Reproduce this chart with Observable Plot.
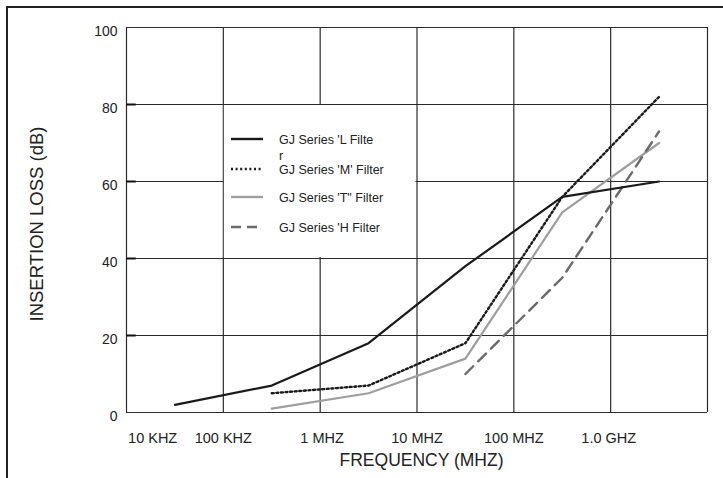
<!DOCTYPE html>
<html>
<head>
<meta charset="utf-8">
<script src="https://cdn.jsdelivr.net/npm/d3@7"></script>
<script src="https://cdn.jsdelivr.net/npm/@observablehq/plot@0.6"></script>
<style>
  html, body { margin: 0; padding: 0; background: #fff; }
  #wrap { position: relative; width: 723px; height: 478px; overflow: hidden; font-family: "Liberation Sans", Arial, sans-serif; }
  #border { position: absolute; left: 6px; top: 6px; width: 730px; height: 480px; border-top: 2px solid #222; border-left: 2px solid #222; box-sizing: border-box; }
  #chart { position: absolute; left: 0; top: 0; }
  #legend { position: absolute; left: 0; top: 0; }
</style>
</head>
<body>
<div id="wrap"><div id="border"></div><div id="chart"></div><div id="legend"></div></div>
<script>
// x positions are in "decades" from 10 kHz (gridline index)
const decades = [0.5, 1.5, 2.5, 3.5, 4.5, 5.5];
const seriesL = [2, 7, 18, 38, 56, 60];           // GJ Series 'L
const xM = [1.5, 2.5, 3.5, 4.5, 5.5];
const seriesM = [5, 7, 18, 56, 82];               // GJ Series 'M'
const xT = [1.5, 2.5, 3.5, 4.5, 5.5];
const seriesT = [1, 5, 14, 52, 70];               // GJ Series 'T"
const xH = [3.5, 4.5, 5.5];
const seriesH = [10, 35, 73];                     // GJ Series 'H
const yTicks = [0, 20, 40, 60, 80, 100];
const xGrid = [0, 1, 2, 3, 4, 5, 6];
const xTickLabels = ["10 KHZ", "100 KHZ", "1 MHZ", "10 MHZ", "100 MHZ", "1.0 GHZ"];
const xTickPos = [0.27, 1.0, 2.02, 3.0, 4.0, 4.98];
const legendLabels = [["GJ Series 'L Filte", "r"], ["GJ Series 'M' Filter"], ["GJ Series 'T\" Filter"], ["GJ Series 'H Filter"]];

const L = decades.map((x, i) => ({x, y: seriesL[i]}));
const M = xM.map((x, i) => ({x, y: seriesM[i]}));
const T = xT.map((x, i) => ({x, y: seriesT[i]}));
const H = xH.map((x, i) => ({x, y: seriesH[i]}));
const xt = xTickLabels.map((t, i) => ({t, x: xTickPos[i]}));

const font = "Liberation Sans, Arial, sans-serif";
const gridColor = "#2a2a2a";

const chart = Plot.plot({
  width: 723,
  height: 478,
  marginLeft: 126,
  marginRight: 16,
  marginTop: 27,
  marginBottom: 66,
  x: {domain: [0, 6], axis: null},
  y: {domain: [0, 100], axis: null},
  style: {background: "transparent", fontFamily: font},
  marks: [
    Plot.ruleX(xGrid, {stroke: gridColor, strokeWidth: 1.2, strokeOpacity: 1}),
    Plot.ruleY(yTicks, {stroke: gridColor, strokeWidth: 1.2, strokeOpacity: 1}),
    Plot.ruleY(yTicks.slice(1, 5), {x1: 0, x2: 0.1, stroke: "#111", strokeWidth: 2}),
    Plot.rect([{x1: 1, x2: 3, y1: 40, y2: 80}], {x1: "x1", x2: "x2", y1: "y1", y2: "y2", fill: "white", inset: 1}),
    Plot.line(T, {x: "x", y: "y", stroke: "#9e9e9e", strokeWidth: 2.2}),
    Plot.line(H, {x: "x", y: "y", stroke: "#6a6a6a", strokeWidth: 2.4, strokeDasharray: "11,7"}),
    Plot.line(L, {x: "x", y: "y", stroke: "#1a1a1a", strokeWidth: 2.2}),
    Plot.line(M, {x: "x", y: "y", stroke: "#1a1a1a", strokeWidth: 2.4, strokeDasharray: "2,2.6"}),
    Plot.text(yTicks, {x: 0, y: d => d, text: d => String(d), textAnchor: "end", dx: -9, dy: 4, fontSize: 14, fill: "#222"}),
    Plot.text(xt, {x: "x", y: 0, text: "t", dy: 26, fontSize: 14.5, fill: "#222"}),
    Plot.text(["FREQUENCY (MHZ)"], {frameAnchor: "bottom", textAnchor: "middle", dx: 4.5, dy: 53, fontSize: 17.5, fill: "#222"}),
    Plot.text(["INSERTION LOSS (dB)"], {x: 0, y: 50, textAnchor: "middle", rotate: -90, fontSize: 18.5, fill: "#222", dx: -89, dy: 4})
  ]
});
document.getElementById("chart").appendChild(chart);

// legend overlay
const lg = d3.select("#legend").append("svg").attr("width", 723).attr("height", 478)
  .style("font-family", font);
const legendStyles = [
  {stroke: "#1a1a1a", dash: null, w: 2.4, y: 139},
  {stroke: "#1a1a1a", dash: "2,2.6", w: 2.4, y: 169},
  {stroke: "#9e9e9e", dash: null, w: 2.4, y: 197},
  {stroke: "#6a6a6a", dash: "10,6", w: 2.6, y: 227}
];
legendLabels.forEach((lines, i) => {
  const s = legendStyles[i];
  lg.append("line").attr("x1", 231).attr("x2", 263).attr("y1", s.y).attr("y2", s.y)
    .attr("stroke", s.stroke).attr("stroke-width", s.w).attr("stroke-dasharray", s.dash);
  lines.forEach((t, j) => {
    lg.append("text").attr("x", 279).attr("y", s.y + 4.5 + j * 16).attr("font-size", 12.5)
      .attr("fill", "#222").text(t);
  });
});
</script>
</body>
</html>
